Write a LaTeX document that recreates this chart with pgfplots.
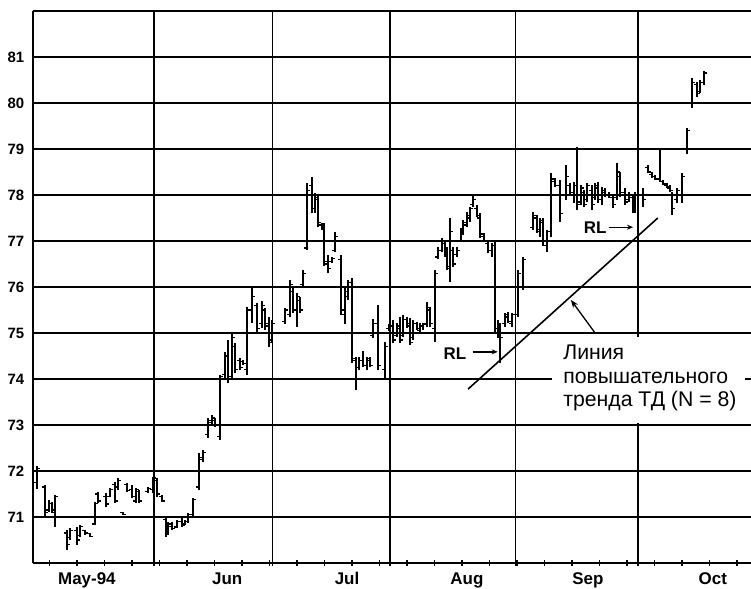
\documentclass[border=0pt]{standalone}
\usepackage{pgfplots}
\pgfplotsset{compat=1.18}
\usepackage{pgfplotstable}
\usepackage{fontspec}
\setmainfont{Liberation Sans}
\usetikzlibrary{arrows.meta}

% d = trading-day index, hi, lo, open, close
\pgfplotstableread{
d hi lo o c
0.7 72.10 71.60 71.75 72.05
2.2 71.70 71.00 71.65 71.10
2.9 71.37 71.11 71.15 71.30
3.5 71.33 71.09 71.30 71.15
4.0 71.48 70.78 71.10 71.45
6.2 70.72 70.28 70.65 70.40
6.7 70.76 70.50 70.55 70.70
8.0 70.78 70.39 70.70 70.50
8.5 70.83 70.57 70.60 70.80
9.5 70.72 70.61 70.70 70.65
10.4 70.65 70.57 70.64 70.58
11.3 71.33 70.83 70.85 71.30
11.8 71.54 71.30 71.50 71.35
13.3 71.52 71.22 71.45 71.28
14.0 71.63 71.43 71.45 71.60
14.9 71.76 71.30 71.70 71.35
15.5 71.85 71.59 71.65 71.80
16.4 71.11 71.04 71.10 71.05
17.1 71.74 71.54 71.70 71.58
18.0 71.70 71.41 71.60 71.45
18.7 71.63 71.30 71.35 71.60
19.3 71.59 71.30 71.55 71.35
20.9 71.65 71.52 71.55 71.62
21.8 71.87 71.52 71.60 71.85
22.5 71.85 71.43 71.80 71.50
23.5 71.48 71.33 71.45 71.35
24.2 71.00 70.57 70.95 70.65
24.5 70.89 70.61 70.70 70.85
25.3 70.89 70.72 70.80 70.75
26.2 70.93 70.76 70.78 70.90
27.1 70.98 70.78 70.90 70.82
27.6 70.93 70.83 70.85 70.90
28.2 71.09 70.87 70.90 71.05
29.1 71.41 71.00 71.05 71.38
30.2 72.39 71.59 71.65 72.30
30.9 72.46 72.20 72.25 72.40
31.8 73.15 72.72 72.80 73.10
32.5 73.22 73.00 73.05 73.15
33.1 73.15 72.96 73.10 73.00
34.0 74.09 72.67 72.75 74.05
34.9 74.59 74.02 74.10 74.50
35.5 74.85 73.91 74.50 74.00
36.2 75.02 73.98 74.05 74.90
36.7 74.78 74.13 74.70 74.20
37.6 74.46 74.20 74.40 74.25
38.2 74.41 74.30 74.38 74.33
38.9 75.57 74.09 74.20 75.50
39.8 76.00 75.22 75.50 75.80
40.7 75.65 75.00 75.60 75.10
41.6 75.70 75.10 75.20 75.60
42.2 75.54 75.07 75.50 75.15
42.9 75.35 74.70 75.20 74.80
43.5 75.28 74.78 74.85 75.20
45.8 75.55 75.20 75.25 75.50
46.7 76.15 75.35 75.40 76.05
47.3 75.98 75.43 75.90 75.50
48.0 75.87 75.13 75.50 75.80
48.5 75.78 75.43 75.70 75.50
49.1 76.37 76.00 76.05 76.30
49.8 78.26 76.80 76.85 78.10
50.7 78.40 77.60 78.20 77.70
51.3 78.04 77.61 77.70 77.95
51.8 78.00 77.30 77.90 77.40
52.5 77.39 77.24 77.35 77.28
52.9 77.40 76.45 77.30 76.55
53.6 76.70 76.30 76.50 76.40
54.4 76.65 76.52 76.55 76.62
54.9 77.20 76.75 76.80 77.10
56.0 76.70 75.40 76.60 75.50
56.7 76.00 75.20 75.40 75.90
57.3 76.15 75.72 75.80 76.10
58.0 76.20 74.35 76.10 74.45
58.7 74.48 73.76 74.40 74.00
59.3 74.48 74.20 74.25 74.40
60.0 74.60 74.25 74.40 74.30
60.7 74.48 74.20 74.30 74.45
61.3 74.48 74.26 74.40 74.30
61.8 75.30 74.90 74.95 75.20
62.7 75.60 74.20 75.20 74.30
64.0 74.80 74.00 74.20 74.70
64.7 75.20 75.05 75.10 75.15
65.5 75.28 74.78 75.15 74.85
66.2 75.22 74.91 74.95 75.15
66.7 75.35 74.78 75.10 74.85
67.3 75.39 74.91 74.95 75.30
68.0 75.35 75.11 75.30 75.15
68.5 75.33 74.74 75.20 74.80
69.1 75.28 74.85 74.90 75.20
69.8 75.24 75.07 75.20 75.10
70.4 75.22 75.00 75.05 75.15
70.9 75.22 75.07 75.15 75.18
71.6 75.67 75.13 75.20 75.55
72.2 75.57 75.13 75.50 75.20
73.1 76.37 74.80 75.10 76.30
73.6 76.87 76.60 76.65 76.80
74.4 77.07 76.76 76.80 77.00
74.9 77.02 76.65 76.95 76.70
75.3 76.87 76.37 76.80 76.45
75.8 77.50 76.10 76.40 77.20
76.4 76.87 76.43 76.80 76.50
77.1 76.87 76.65 76.70 76.80
77.8 77.28 76.98 77.00 77.20
78.2 77.46 77.13 77.20 77.40
78.9 77.63 77.30 77.35 77.55
79.5 77.74 77.41 77.50 77.70
80.0 78.00 77.74 77.80 77.90
80.7 77.78 77.52 77.70 77.55
81.3 77.60 77.07 77.50 77.15
82.0 77.17 76.98 77.10 77.00
82.7 76.98 76.74 76.95 76.80
83.5 76.96 76.65 76.80 76.90
84.0 76.98 75.00 76.90 75.10
84.5 75.28 74.90 75.10 75.20
84.9 75.20 74.35 75.10 74.90
85.8 75.43 75.13 75.20 75.35
86.4 75.46 75.22 75.40 75.25
87.1 75.43 75.13 75.20 75.40
88.2 76.37 75.35 75.40 76.30
89.1 76.65 75.93 76.00 76.60
90.9 77.63 77.24 77.30 77.55
91.6 77.57 77.17 77.50 77.25
92.2 77.50 77.09 77.20 77.45
92.7 77.50 76.90 77.40 77.00
93.5 77.24 76.76 76.90 77.20
94.2 78.48 77.09 77.20 78.35
94.9 78.37 78.17 78.30 78.20
95.8 78.33 77.41 78.20 77.60
96.9 78.65 77.90 78.00 78.40
97.6 78.26 78.00 78.20 78.05
98.4 78.28 77.83 78.00 78.20
98.9 79.04 77.67 78.20 77.80
99.6 78.22 77.78 77.85 78.15
100.2 78.11 77.74 78.05 77.80
100.7 78.26 77.85 77.90 78.20
101.6 78.22 77.67 78.10 77.80
102.2 78.26 77.89 77.95 78.20
102.7 78.28 77.83 78.15 77.90
103.5 78.17 77.78 77.90 78.10
104.0 78.15 77.96 78.05 78.00
104.7 78.07 77.93 78.00 77.95
105.5 78.00 77.72 77.95 77.80
106.2 78.70 77.90 77.95 78.50
106.7 78.50 77.96 78.40 78.05
107.6 78.15 77.78 78.05 77.85
108.4 78.07 77.85 77.90 78.00
109.1 78.00 77.61 77.95 77.70
109.5 78.07 77.61 77.70 78.00
110.9 78.15 77.74 78.00 77.90
111.8 78.65 78.48 78.60 78.50
112.5 78.50 78.37 78.45 78.40
113.1 78.43 78.33 78.40 78.35
114.0 79.00 78.28 78.35 78.30
114.5 78.33 78.22 78.30 78.25
115.3 78.26 78.15 78.22 78.18
115.8 78.22 78.07 78.15 78.10
116.2 78.07 77.57 78.00 77.70
117.1 78.15 77.83 77.90 78.10
118.0 78.48 77.83 78.00 78.40
118.9 79.45 78.90 79.00 79.40
119.8 80.55 79.90 80.00 80.45
120.7 80.46 80.13 80.40 80.20
121.3 80.50 80.22 80.25 80.45
122.0 80.70 80.40 80.45 80.65
}\bars

\begin{document}
\begin{tikzpicture}
\useasboundingbox (-33bp,-26bp) rectangle (718bp,563bp);
\begin{axis}[
  at={(0,0)}, anchor=south west,
  scale only axis, width=718bp, height=552bp,
  xmin=0, xmax=130.55, ymin=70, ymax=82,
  axis lines*=left,
  axis line style={black, line width=1.9bp, -},
  xtick={22,43.6,64.9,87.8,110},
  xticklabels={,,,,},
  minor xtick={3,8,...,128},
  ytick={71,72,73,74,75,76,77,78,79,80,81,82},
  yticklabels={71,72,73,74,75,76,77,78,79,80,81,{}},
  grid=major,
  grid style={black, line width=1.2bp},
  tick align=center,
  major tick length=7bp, minor tick length=6bp,
  xtick style={black, line width=1.2bp},
  ytick style={draw=none},
  yticklabel style={font=\bfseries\fontsize{15}{15}\selectfont, inner sep=0pt, anchor=east, xshift=-5bp},
  extra x ticks={9.8,35.3,57.1,78.9,100.9,123.6},
  extra x tick labels={May-94,Jun,Jul,Aug,Sep,Oct},
  extra x tick style={grid=none, major tick length=0pt,
     tick label style={font=\bfseries\fontsize{17}{17}\selectfont, inner sep=0pt, anchor=north, yshift=-9.5bp}},
]
% high-low bars
\addplot[black, line width=1.6bp, quiver={u=0, v=\thisrow{hi}-\thisrow{lo}}] table[x=d, y=lo] {\bars};
% open ticks (left)
\addplot[black, line width=1.3bp, quiver={u=-0.55, v=0}] table[x=d, y=o] {\bars};
% close ticks (right)
\addplot[black, line width=1.3bp, quiver={u=0.55, v=0}] table[x=d, y=c] {\bars};

% top border
\draw[black, line width=1.9bp] (axis cs:0,82) -- (axis cs:130.55,82);

% TD trend line
\addplot[black, line width=1.6bp] coordinates {(79.1,73.78) (113.6,77.50)};

% text box
\fill[white] (axis cs:94.4,73.04) rectangle (axis cs:129.5,74.91);
\node[anchor=north west, inner sep=0pt, align=left,
      font=\fontsize{21.3}{23.5}\selectfont] at (axis cs:96.4,74.74)
  {Линия\\повышательного\\тренда ТД (N = 8)};
\draw[black, line width=1.3bp, -{Stealth[length=8bp,width=6bp]}] (axis cs:102.2,75.0) -- (axis cs:97.8,75.72);

% RL labels
\node[font=\bfseries\fontsize{17}{17}\selectfont, inner sep=0pt] at (axis cs:76.7,74.54) {RL};
\draw[black, line width=1.3bp, -{Stealth[length=6bp,width=5bp]}] (axis cs:80.0,74.59) -- (axis cs:84.5,74.59);
\node[font=\bfseries\fontsize{17}{17}\selectfont, inner sep=0pt] at (axis cs:102.2,77.28) {RL};
\draw[black, line width=1.3bp, -{Stealth[length=6bp,width=5bp]}] (axis cs:104.7,77.30) -- (axis cs:109.1,77.30);
\end{axis}
\end{tikzpicture}
\end{document}
